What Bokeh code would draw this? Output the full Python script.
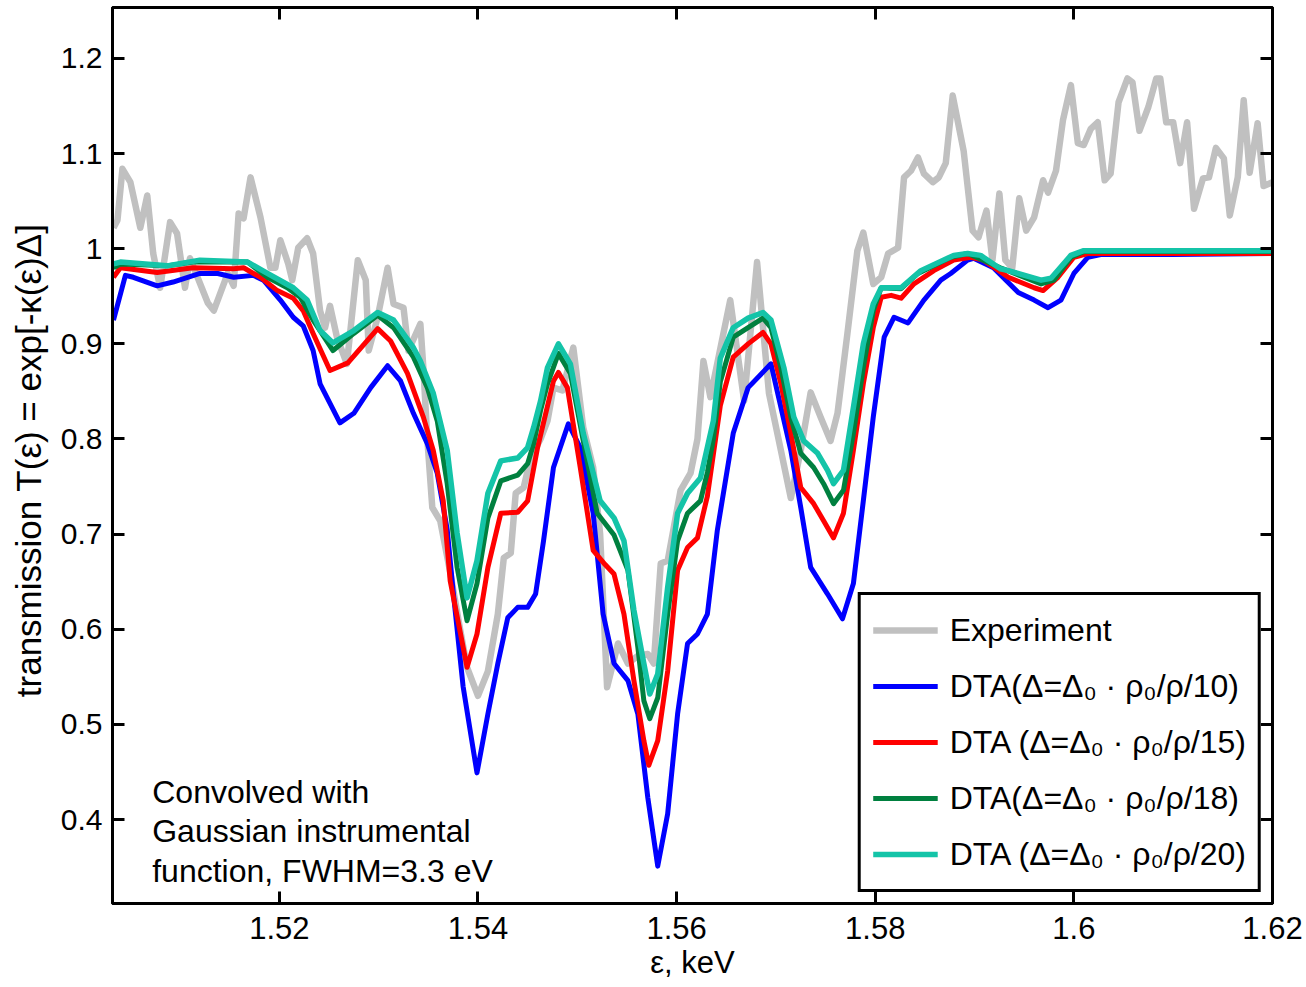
from bokeh.plotting import figure
from bokeh.models import (Range1d, FixedTicker, PrintfTickFormatter, LinearAxis,
                          Legend, LegendItem, Label, CustomJSTickFormatter)
from bokeh.embed import file_html
from bokeh.resources import INLINE

# ---------------- data ----------------
x_ticks = [1.52, 1.54, 1.56, 1.58, 1.6, 1.62]
y_ticks = [0.4, 0.5, 0.6, 0.7, 0.8, 0.9, 1.0, 1.1, 1.2]

x_exp = [1.5033, 1.5037, 1.5042, 1.5050, 1.5060, 1.5067, 1.5073, 1.5080, 1.5090, 1.5097,
         1.5105, 1.5110, 1.5128, 1.5134, 1.5148, 1.5154, 1.5159, 1.5164, 1.5171, 1.5181,
         1.5191, 1.5196, 1.5201, 1.5209, 1.5213, 1.5219, 1.5228, 1.5234, 1.5241, 1.5246,
         1.5251, 1.5258, 1.5268, 1.5279, 1.5287, 1.5290, 1.5299, 1.5309, 1.5315, 1.5325,
         1.5330, 1.5342, 1.5345, 1.5349, 1.5354, 1.5362, 1.5372, 1.5382, 1.5389, 1.5400,
         1.5410, 1.5420, 1.5426, 1.5433, 1.5438, 1.5446, 1.5453, 1.5463, 1.5470, 1.5476,
         1.5485, 1.5496, 1.5506, 1.5516, 1.5523, 1.5530, 1.5541, 1.5551, 1.5561, 1.5571,
         1.5577, 1.5584, 1.5591, 1.5604, 1.5614, 1.5621, 1.5627, 1.5634, 1.5654, 1.5668,
         1.5681, 1.5693, 1.5705, 1.5715, 1.5725, 1.5735, 1.5745, 1.5755, 1.5762, 1.5772,
         1.5782, 1.5788, 1.5798, 1.5806, 1.5813, 1.5823, 1.5829, 1.5836, 1.5843, 1.5849,
         1.5858, 1.5864, 1.5871, 1.5878, 1.5889, 1.5898, 1.5904, 1.5912, 1.5918, 1.5925,
         1.5931, 1.5938, 1.5945, 1.5952, 1.5960, 1.5969, 1.5974, 1.5982, 1.5989, 1.5997,
         1.6004, 1.6010, 1.6017, 1.6024, 1.6031, 1.6037, 1.6045, 1.6054, 1.6059, 1.6066,
         1.6075, 1.6083, 1.6087, 1.6093, 1.6100, 1.6107, 1.6114, 1.6121, 1.6130, 1.6136,
         1.6143, 1.6151, 1.6157, 1.6165, 1.6171, 1.6177, 1.6185, 1.6191, 1.6200]
y_exp = [1.022, 1.030, 1.084, 1.070, 1.022, 1.056, 0.995, 0.959, 1.028, 1.016,
         0.959, 0.990, 0.943, 0.935, 0.974, 0.961, 1.037, 1.032, 1.075, 1.033,
         0.980, 0.980, 1.009, 0.984, 0.967, 1.001, 1.011, 0.995, 0.935, 0.917,
         0.940, 0.907, 0.879, 0.988, 0.967, 0.893, 0.928, 0.980, 0.942, 0.938,
         0.893, 0.921, 0.875, 0.800, 0.728, 0.714, 0.660, 0.600, 0.560, 0.530,
         0.556, 0.616, 0.675, 0.680, 0.743, 0.749, 0.780, 0.800, 0.819, 0.854,
         0.851, 0.896, 0.812, 0.770, 0.700, 0.539, 0.585, 0.564, 0.572, 0.574,
         0.564, 0.669, 0.672, 0.746, 0.764, 0.800, 0.882, 0.844, 0.946, 0.840,
         0.986, 0.848, 0.788, 0.738, 0.788, 0.849, 0.823, 0.798, 0.827, 0.911,
         0.998, 1.017, 0.963, 0.970, 0.995, 1.001, 1.075, 1.082, 1.096, 1.079,
         1.070, 1.075, 1.090, 1.161, 1.103, 1.019, 1.012, 1.040, 0.988, 1.058,
         0.988, 0.980, 1.053, 1.019, 1.033, 1.072, 1.059, 1.082, 1.135, 1.172,
         1.111, 1.109, 1.126, 1.133, 1.072, 1.079, 1.154, 1.179, 1.175, 1.124,
         1.149, 1.179, 1.179, 1.133, 1.133, 1.090, 1.133, 1.042, 1.074, 1.075,
         1.106, 1.095, 1.035, 1.075, 1.156, 1.080, 1.132, 1.066, 1.070]

x_dta10 = [1.5033, 1.5045, 1.5053, 1.5077, 1.5093, 1.5120, 1.5138, 1.5154, 1.5174, 1.5184,
           1.5201, 1.5214, 1.5224, 1.5234, 1.5241, 1.5261, 1.5275, 1.5292, 1.5309, 1.5322,
           1.5335, 1.5349, 1.5359, 1.5369, 1.5375, 1.5385, 1.5399, 1.5410, 1.5420, 1.5430,
           1.5440, 1.5450, 1.5458, 1.5466, 1.5476, 1.5491, 1.5503, 1.5516, 1.5526, 1.5537,
           1.5551, 1.5561, 1.5571, 1.5581, 1.5591, 1.5601, 1.5611, 1.5621, 1.5631, 1.5641,
           1.5657, 1.5672, 1.5695, 1.5715, 1.5725, 1.5735, 1.5752, 1.5767, 1.5778, 1.5788,
           1.5798, 1.5809, 1.5819, 1.5833, 1.5849, 1.5866, 1.5876, 1.5893, 1.5899, 1.5919,
           1.5944, 1.5960, 1.5974, 1.5987, 1.6000, 1.6014, 1.6027, 1.6100, 1.6200]
y_dta10 = [0.925, 0.972, 0.970, 0.961, 0.965, 0.974, 0.974, 0.970, 0.972, 0.967,
           0.946, 0.928, 0.919, 0.893, 0.858, 0.817, 0.827, 0.854, 0.877, 0.861,
           0.827, 0.795, 0.764, 0.705, 0.640, 0.540, 0.449, 0.511, 0.564, 0.612,
           0.623, 0.623, 0.637, 0.693, 0.770, 0.816, 0.791, 0.722, 0.616, 0.564,
           0.546, 0.511, 0.423, 0.351, 0.406, 0.511, 0.585, 0.595, 0.616, 0.704,
           0.806, 0.854, 0.879, 0.788, 0.728, 0.665, 0.637, 0.611, 0.648, 0.735,
           0.823, 0.907, 0.928, 0.922, 0.946, 0.967, 0.974, 0.988, 0.990, 0.980,
           0.954, 0.946, 0.938, 0.946, 0.974, 0.991, 0.994, 0.994, 0.995]

x_dta15 = [1.5033, 1.5040, 1.5077, 1.5113, 1.5154, 1.5164, 1.5181, 1.5198, 1.5214, 1.5224,
           1.5234, 1.5251, 1.5269, 1.5299, 1.5312, 1.5329, 1.5345, 1.5355, 1.5365, 1.5372,
           1.5389, 1.5399, 1.5410, 1.5423, 1.5440, 1.5450, 1.5460, 1.5476, 1.5481, 1.5490,
           1.5503, 1.5516, 1.5528, 1.5537, 1.5547, 1.5557, 1.5567, 1.5572, 1.5581, 1.5591,
           1.5601, 1.5611, 1.5621, 1.5631, 1.5644, 1.5657, 1.5672, 1.5687, 1.5695, 1.5705,
           1.5715, 1.5725, 1.5738, 1.5748, 1.5758, 1.5768, 1.5778, 1.5788, 1.5798, 1.5806,
           1.5816, 1.5826, 1.5839, 1.5859, 1.5879, 1.5896, 1.5909, 1.5934, 1.5960, 1.5969,
           1.5984, 1.6000, 1.6014, 1.6100, 1.6200]
y_dta15 = [0.970, 0.980, 0.975, 0.980, 0.979, 0.980, 0.970, 0.956, 0.948, 0.935,
           0.911, 0.872, 0.880, 0.916, 0.903, 0.869, 0.823, 0.788, 0.735, 0.651,
           0.560, 0.595, 0.665, 0.722, 0.723, 0.735, 0.791, 0.861, 0.870, 0.854,
           0.770, 0.683, 0.668, 0.658, 0.616, 0.546, 0.483, 0.457, 0.483, 0.556,
           0.662, 0.686, 0.696, 0.740, 0.835, 0.886, 0.900, 0.912, 0.900, 0.858,
           0.806, 0.749, 0.732, 0.714, 0.696, 0.722, 0.788, 0.858, 0.917, 0.949,
           0.951, 0.948, 0.963, 0.977, 0.988, 0.991, 0.988, 0.970, 0.959, 0.956,
           0.970, 0.991, 0.995, 0.995, 0.995]

x_dta18 = [1.5033, 1.5040, 1.5087, 1.5113, 1.5168, 1.5188, 1.5208, 1.5221, 1.5234, 1.5254,
           1.5275, 1.5299, 1.5315, 1.5335, 1.5349, 1.5359, 1.5369, 1.5379, 1.5389, 1.5399,
           1.5410, 1.5423, 1.5440, 1.5450, 1.5456, 1.5463, 1.5470, 1.5481, 1.5493, 1.5506,
           1.5520, 1.5537, 1.5551, 1.5561, 1.5567, 1.5573, 1.5581, 1.5591, 1.5601, 1.5611,
           1.5624, 1.5631, 1.5637, 1.5644, 1.5657, 1.5672, 1.5687, 1.5695, 1.5705, 1.5715,
           1.5725, 1.5738, 1.5748, 1.5758, 1.5768, 1.5778, 1.5788, 1.5798, 1.5806, 1.5826,
           1.5843, 1.5876, 1.5893, 1.5926, 1.5967, 1.5980, 1.5997, 1.6010, 1.6200]
y_dta18 = [0.980, 0.984, 0.982, 0.986, 0.986, 0.970, 0.959, 0.949, 0.925, 0.893,
           0.911, 0.930, 0.917, 0.886, 0.854, 0.819, 0.753, 0.665, 0.609, 0.648,
           0.717, 0.756, 0.762, 0.774, 0.795, 0.830, 0.858, 0.890, 0.869, 0.798,
           0.722, 0.699, 0.662, 0.581, 0.525, 0.506, 0.528, 0.616, 0.693, 0.722,
           0.735, 0.765, 0.800, 0.860, 0.907, 0.917, 0.927, 0.917, 0.875, 0.823,
           0.785, 0.770, 0.753, 0.732, 0.746, 0.806, 0.875, 0.935, 0.959, 0.958,
           0.974, 0.991, 0.995, 0.980, 0.963, 0.967, 0.991, 0.997, 0.997]

x_dta20 = [1.5033, 1.5040, 1.5087, 1.5120, 1.5168, 1.5188, 1.5214, 1.5228, 1.5241, 1.5254,
           1.5275, 1.5299, 1.5315, 1.5335, 1.5342, 1.5355, 1.5369, 1.5379, 1.5389, 1.5399,
           1.5410, 1.5423, 1.5440, 1.5450, 1.5456, 1.5463, 1.5470, 1.5481, 1.5493, 1.5506,
           1.5523, 1.5537, 1.5547, 1.5557, 1.5567, 1.5573, 1.5581, 1.5591, 1.5601, 1.5611,
           1.5624, 1.5637, 1.5644, 1.5657, 1.5672, 1.5687, 1.5695, 1.5708, 1.5718, 1.5728,
           1.5742, 1.5752, 1.5758, 1.5768, 1.5778, 1.5788, 1.5798, 1.5806, 1.5826, 1.5846,
           1.5879, 1.5893, 1.5906, 1.5926, 1.5934, 1.5967, 1.5977, 1.5997, 1.6010, 1.6200]
y_dta20 = [0.984, 0.986, 0.982, 0.988, 0.986, 0.974, 0.959, 0.946, 0.914, 0.901,
           0.914, 0.933, 0.925, 0.896, 0.882, 0.848, 0.788, 0.701, 0.633, 0.672,
           0.743, 0.777, 0.780, 0.791, 0.812, 0.840, 0.875, 0.900, 0.879, 0.806,
           0.735, 0.717, 0.693, 0.620, 0.564, 0.532, 0.553, 0.644, 0.722, 0.743,
           0.759, 0.819, 0.885, 0.917, 0.927, 0.933, 0.925, 0.875, 0.823, 0.798,
           0.785, 0.767, 0.753, 0.767, 0.833, 0.900, 0.942, 0.959, 0.959, 0.977,
           0.993, 0.995, 0.993, 0.979, 0.977, 0.967, 0.969, 0.993, 0.998, 0.998]

legend_labels = ["Experiment",
                 "DTA(\u0394=\u0394\u2080 \u00b7 \u03c1\u2080/\u03c1/10)",
                 "DTA (\u0394=\u0394\u2080 \u00b7 \u03c1\u2080/\u03c1/15)",
                 "DTA(\u0394=\u0394\u2080 \u00b7 \u03c1\u2080/\u03c1/18)",
                 "DTA (\u0394=\u0394\u2080 \u00b7 \u03c1\u2080/\u03c1/20)"]

FONT = "Liberation Sans"

p = figure(frame_width=1160, frame_height=896,
           x_range=Range1d(1.5032, 1.6200), y_range=Range1d(0.3117, 1.2536),
           output_backend="svg", toolbar_location=None,
           min_border_left=112, min_border_right=32,
           min_border_top=7, min_border_bottom=84)
p.background_fill_color = "white"
p.border_fill_color = "white"
p.grid.visible = False
p.outline_line_color = "black"
p.outline_line_width = 3

fmt = PrintfTickFormatter(format="%g")
p.xaxis.ticker = FixedTicker(ticks=x_ticks)
p.yaxis.ticker = FixedTicker(ticks=y_ticks)
p.xaxis.formatter = fmt
p.yaxis.formatter = fmt

for ax in (p.xaxis[0], p.yaxis[0]):
    ax.axis_line_width = 3
    ax.axis_line_color = "black"
    ax.major_tick_in = 12
    ax.major_tick_out = 0
    ax.major_tick_line_width = 3
    ax.minor_tick_line_color = None
    ax.major_label_text_font = FONT
    ax.major_label_text_color = "black"
    ax.axis_label_text_font = FONT
    ax.axis_label_text_font_style = "normal"
    ax.axis_label_text_color = "black"

p.xaxis.major_label_text_font_size = "31px"
p.yaxis.major_label_text_font_size = "30px"
p.xaxis.axis_label = "\u03b5, keV"
p.xaxis.axis_label_text_font_size = "31px"
p.xaxis.major_label_standoff = 13
p.xaxis.axis_label_standoff = 3
p.yaxis.axis_label = "transmission  T(\u03b5) = exp[-\u03ba(\u03b5)\u0394]"
p.yaxis.axis_label_text_font_size = "35px"
p.yaxis.major_label_standoff = 10
p.yaxis.axis_label_standoff = 10

blank = CustomJSTickFormatter(code="return '';")
for side in ("right", "above"):
    ax = LinearAxis(ticker=FixedTicker(ticks=y_ticks if side == "right" else x_ticks),
                    formatter=blank)
    ax.axis_line_width = 3
    ax.major_tick_in = 12
    ax.major_tick_out = 0
    ax.major_tick_line_width = 3
    ax.minor_tick_line_color = None
    ax.major_label_standoff = 0
    p.add_layout(ax, side)

r_exp = p.line(x_exp, y_exp, line_color="#C0C0C0", line_width=6.5, line_join="round")
r10 = p.line(x_dta10, y_dta10, line_color="#0000FF", line_width=5, line_join="round")
r15 = p.line(x_dta15, y_dta15, line_color="#FF0000", line_width=5, line_join="round")
r18 = p.line(x_dta18, y_dta18, line_color="#00803F", line_width=5, line_join="round")
r20 = p.line(x_dta20, y_dta20, line_color="#14C4A8", line_width=5.5, line_join="round")

legend = Legend(items=[LegendItem(label=lab, renderers=[r])
                       for lab, r in zip(legend_labels, [r_exp, r10, r15, r18, r20])],
                location="bottom_right")
legend.margin = 11
legend.padding = 12
legend.spacing = 10
legend.label_height = 46
legend.glyph_height = 46
legend.glyph_width = 65
legend.label_standoff = 12
legend.label_text_font = FONT
legend.label_text_font_size = "32px"
legend.label_text_color = "black"
legend.border_line_color = "black"
legend.border_line_alpha = 1.0
legend.border_line_width = 3
legend.background_fill_alpha = 1
p.add_layout(legend, "center")

note = Label(x=1.5072, y=0.448, text="Convolved with\nGaussian instrumental\nfunction, FWHM=3.3 eV",
             text_font=FONT, text_font_size="32px", text_color="black",
             text_baseline="top", text_align="left", text_line_height=1.1)
p.add_layout(note)

open("out.html", "w").write(file_html(p, INLINE))
